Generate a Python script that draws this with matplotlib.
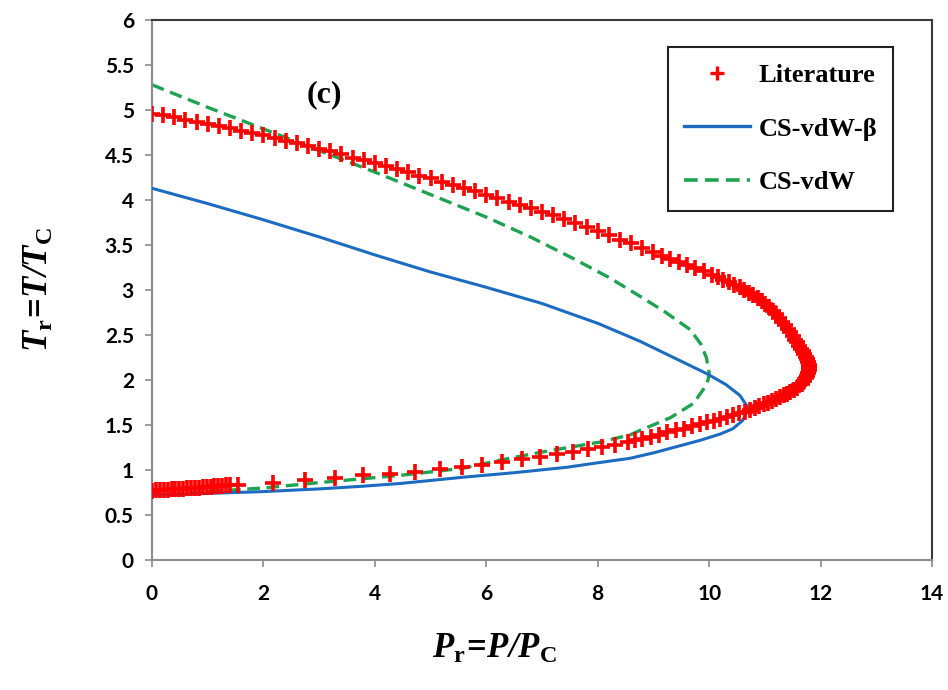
import matplotlib
matplotlib.use("Agg")
import matplotlib.pyplot as plt
from matplotlib.lines import Line2D

# ---------------- data ----------------
lit_P = [0.0, 0.2, 0.4, 0.6, 0.8, 1.0, 1.2, 1.4, 1.6, 1.8, 2.0, 2.2, 2.4, 2.6, 2.8, 3.0,
         3.2, 3.4, 3.6, 3.8, 4.0, 4.2, 4.4, 4.6, 4.8, 5.0, 5.2, 5.4, 5.6, 5.8, 6.0,
         6.2, 6.4, 6.6, 6.8, 7.0, 7.2, 7.4, 7.6, 7.8, 8.0, 8.2, 8.4, 8.6, 8.8, 9.0,
         9.15, 9.3, 9.45, 9.6, 9.75, 9.9,
         10.05, 10.15, 10.25, 10.35, 10.45, 10.55, 10.63, 10.71, 10.79, 10.87, 10.94,
         11.01, 11.08, 11.14, 11.2, 11.26, 11.31, 11.36, 11.41, 11.46, 11.5, 11.54,
         11.58, 11.62, 11.65, 11.68, 11.71, 11.74, 11.76, 11.78, 11.79, 11.8, 11.79,
         11.78, 11.76, 11.73, 11.7, 11.66, 11.62, 11.57, 11.52, 11.46, 11.4, 11.34,
         11.27, 11.2, 11.13, 11.06, 10.98, 10.9, 10.82, 10.74, 10.64, 10.54, 10.43,
         10.32, 10.2, 10.08, 9.96,
         9.83, 9.7, 9.55, 9.4, 9.25, 9.1, 8.95, 8.8, 8.67, 8.55, 8.31, 8.07, 7.83,
         7.56, 7.27, 6.97, 6.64, 6.28, 5.92, 5.56, 5.17, 4.72, 4.27, 3.79, 3.29, 2.75,
         2.17, 1.55, 1.40, 1.33, 1.26, 1.19, 1.12, 1.05, 0.98, 0.91, 0.84, 0.77, 0.70,
         0.63, 0.56, 0.49, 0.42, 0.35, 0.28, 0.21, 0.14, 0.07, 0.0]
lit_T = [4.96, 4.94, 4.92, 4.89, 4.87, 4.85, 4.82, 4.80, 4.77, 4.75, 4.72, 4.69, 4.66,
         4.63, 4.60, 4.57, 4.54, 4.51, 4.47, 4.44, 4.41, 4.38, 4.34, 4.31, 4.27, 4.24,
         4.20, 4.17, 4.13, 4.10, 4.06, 4.02, 3.98, 3.94, 3.91, 3.87, 3.83, 3.79, 3.74,
         3.70, 3.66, 3.61, 3.56, 3.52, 3.47, 3.42, 3.38, 3.35, 3.31, 3.28, 3.24, 3.21,
         3.17, 3.14, 3.11, 3.09, 3.06, 3.03, 3.00, 2.97, 2.94, 2.91, 2.88,
         2.85, 2.81, 2.77, 2.73, 2.69, 2.65, 2.61, 2.57, 2.53, 2.49, 2.45,
         2.42, 2.38, 2.35, 2.32, 2.29, 2.26, 2.23, 2.20, 2.17, 2.14, 2.11,
         2.08, 2.05, 2.02, 1.99, 1.96, 1.94, 1.91, 1.89, 1.87, 1.85, 1.83,
         1.81, 1.79, 1.77, 1.75, 1.73, 1.71, 1.69, 1.67, 1.65, 1.63, 1.61,
         1.59, 1.57, 1.55, 1.53,
         1.51, 1.49, 1.46, 1.44, 1.42, 1.39, 1.37, 1.35, 1.33, 1.31, 1.28, 1.26, 1.23,
         1.20, 1.18, 1.15, 1.12, 1.09, 1.06, 1.03, 1.01, 0.98, 0.96, 0.94, 0.915, 0.89,
         0.86, 0.83, 0.83, 0.83, 0.825, 0.82, 0.82, 0.815, 0.81, 0.81, 0.805, 0.80,
         0.80, 0.795, 0.79, 0.79, 0.785, 0.785, 0.78, 0.78, 0.775, 0.775, 0.77]

beta_P = [0.0, 1.0, 2.0, 3.0, 4.0, 5.0, 6.0, 7.0, 8.0, 8.76, 9.36, 9.96, 10.3, 10.55,
          10.68, 10.66, 10.6, 10.43, 10.2, 9.84, 9.0, 8.58, 8.0, 7.44, 6.5, 5.59, 4.45,
          3.79, 3.0, 2.0, 1.0, 0.0]
beta_T = [4.13, 3.96, 3.78, 3.59, 3.39, 3.20, 3.03, 2.85, 2.63, 2.43, 2.25, 2.07, 1.95,
          1.83, 1.71, 1.62, 1.55, 1.46, 1.40, 1.33, 1.19, 1.13, 1.08, 1.03, 0.97, 0.92,
          0.85, 0.82, 0.79, 0.76, 0.74, 0.72]

vdw_P = [0.0, 1.0, 2.0, 3.0, 4.0, 5.0, 6.0, 6.79, 7.56, 8.2, 8.76, 9.2, 9.66, 9.85,
         9.95, 10.0, 9.98, 9.9, 9.72, 9.3, 8.76, 8.58, 8.04, 7.0, 6.25, 5.59, 4.45, 3.0,
         2.0, 1.0, 0.0]
vdw_T = [5.28, 5.03, 4.79, 4.55, 4.31, 4.06, 3.81, 3.59, 3.35, 3.14, 2.93, 2.76, 2.56,
         2.40, 2.25, 2.08, 2.00, 1.90, 1.74, 1.58, 1.44, 1.39, 1.31, 1.20, 1.11, 1.02,
         0.94, 0.86, 0.80, 0.76, 0.72]

x_ticks = [0, 2, 4, 6, 8, 10, 12, 14]
y_ticks = [0, 0.5, 1, 1.5, 2, 2.5, 3, 3.5, 4, 4.5, 5, 5.5, 6]
y_tick_labels = ["0", "0.5", "1", "1.5", "2", "2.5", "3", "3.5", "4", "4.5", "5", "5.5", "6"]
series_labels = ["Literature", "CS-vdW-\u03b2", "CS-vdW"]

# ---------------- style ----------------
plt.rcParams['mathtext.fontset'] = 'custom'
plt.rcParams['mathtext.rm'] = 'Liberation Serif:bold'
plt.rcParams['mathtext.bf'] = 'Liberation Serif:bold'
plt.rcParams['mathtext.it'] = 'Liberation Serif:bold:italic'
plt.rcParams['mathtext.bfit'] = 'Liberation Serif:bold:italic'

RED = '#ff0000'
BLUE = '#1b6cc1'
GREEN = '#1ea350'
DASH = (0, (3.8, 2.0))

fig = plt.figure(figsize=(9.48, 6.90), dpi=100)
ax = fig.add_axes([152/948, 1-560/690, (932-152)/948, (560-20)/690])

ax.plot(vdw_P, vdw_T, color=GREEN, lw=2.4, ls=DASH, zorder=2)
ax.plot(beta_P, beta_T, color=BLUE, lw=2.2, zorder=3)
ax.plot(lit_P, lit_T, ls='none', marker='+', ms=11.5, mew=2.6, color=RED, zorder=4)

ax.set_xlim(0, 14)
ax.set_ylim(0, 6)
ax.set_xticks(x_ticks)
ax.set_yticks(y_ticks)
ax.set_yticklabels(y_tick_labels)

for lab in ax.get_xticklabels() + ax.get_yticklabels():
    lab.set_fontfamily('Lato')
    lab.set_fontweight('bold')
    lab.set_fontsize(15)
ax.tick_params(axis='both', direction='out', length=5, width=1.2, color='#8c8c8c')
ax.tick_params(axis='x', pad=12)
ax.tick_params(axis='y', pad=8)

for s in ['left', 'bottom']:
    ax.spines[s].set_color('#8c8c8c')
    ax.spines[s].set_linewidth(1.5)
for s in ['top', 'right']:
    ax.spines[s].set_color('#3a3a3a')
    ax.spines[s].set_linewidth(1.5)

fig.text(494/948, 1-648/690, r'$\mathbfit{P}_{\mathbf{r}}\!\mathbf{=}\!\mathbfit{P/P}_{\mathbf{C}}$',
         fontsize=25, ha='center', va='center')
fig.text(38/948, 1-290/690, r'$\mathbfit{T}_{\mathbf{r}}\!\mathbf{=}\!\mathbfit{T/T}_{\mathbf{C}}$',
         fontsize=25, ha='center', va='center', rotation=90)

ax.text(3.09, 5.17, '(c)', fontfamily='Liberation Serif', fontweight='bold', fontsize=23,
        ha='center', va='center')

handles = [Line2D([], [], ls='none', marker='+', ms=10, mew=2.4, color=RED),
           Line2D([], [], color=BLUE, lw=2.4),
           Line2D([], [], color=GREEN, lw=2.6, ls=DASH)]
leg = fig.legend(handles, series_labels, loc='upper left',
                 bbox_to_anchor=(668/948, 1-47/690), bbox_transform=fig.transFigure,
                 prop={'family': 'Liberation Serif', 'weight': 'bold', 'size': 19},
                 frameon=True, fancybox=False, edgecolor='#222222', framealpha=1,
                 borderpad=0.62, labelspacing=1.15, handlelength=2.5, handletextpad=0.3,
                 borderaxespad=0)
leg.get_frame().set_linewidth(1.5)

fig.savefig('out.png', dpi=100)
